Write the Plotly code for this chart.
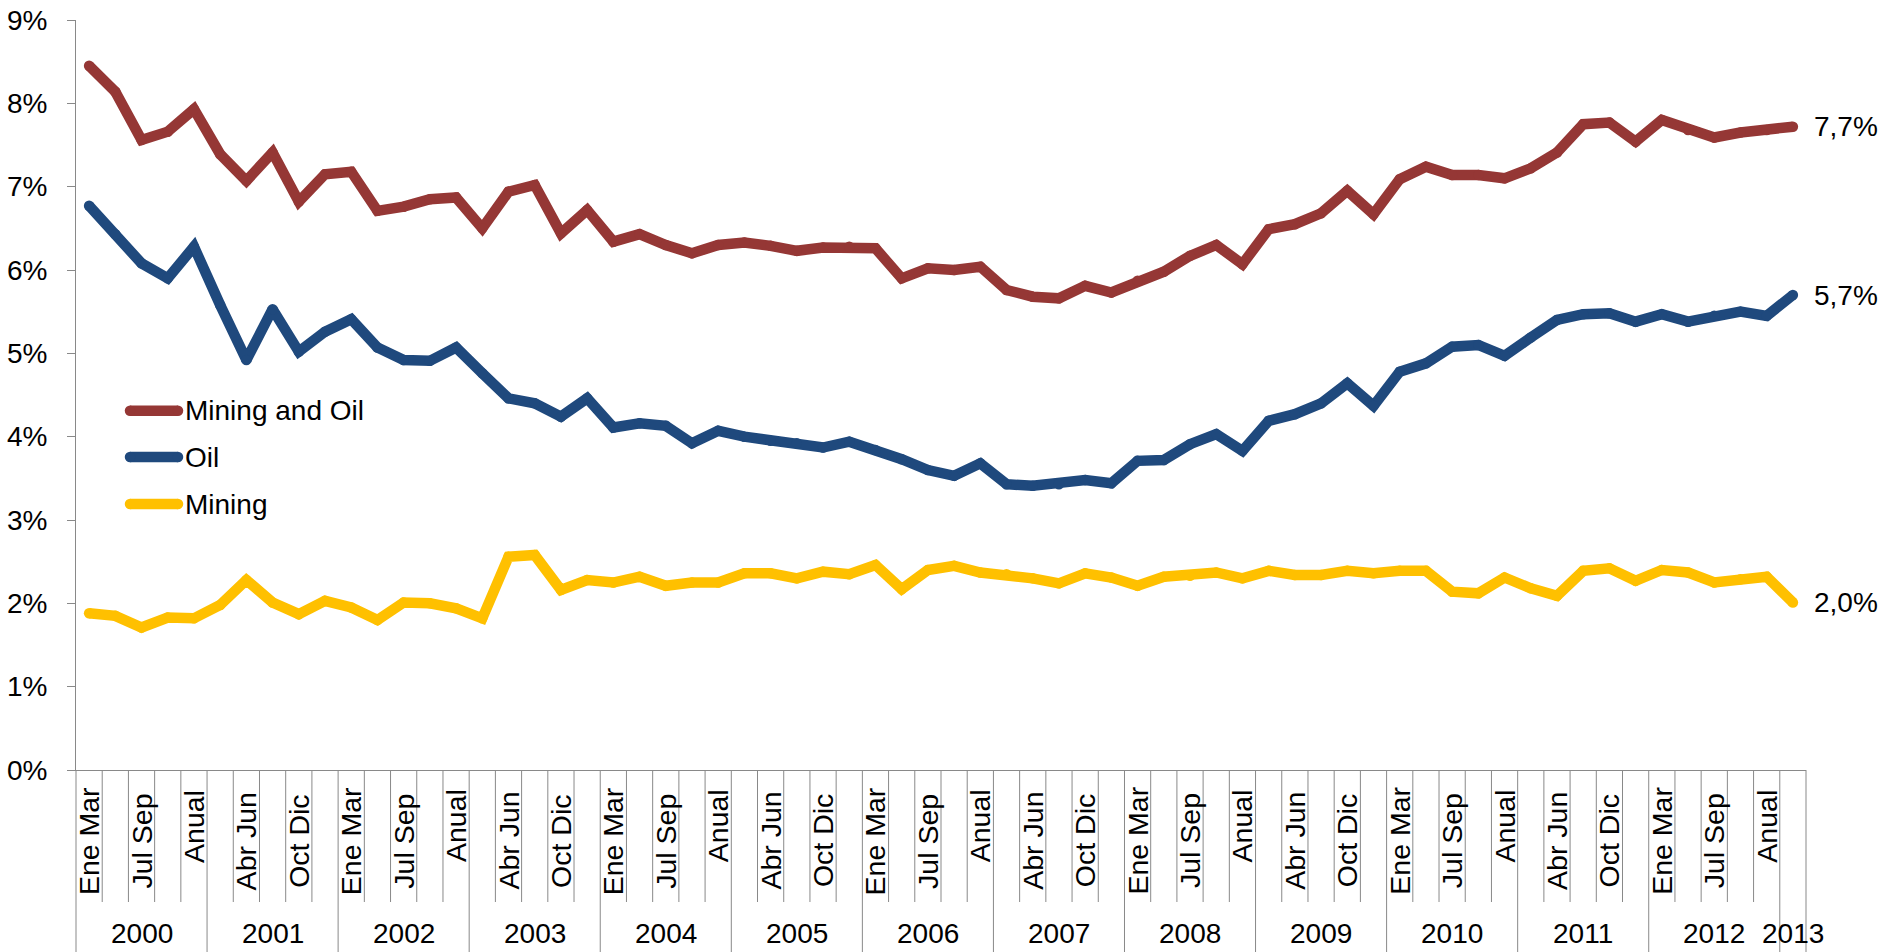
import plotly.graph_objects as go

# ---------------- data ----------------
periods = ["Ene Mar", "Abr Jun", "Jul Sep", "Oct Dic", "Anual"]
years = [str(y) for y in range(2000, 2014)]

cat_year = []
cat_period = []
for y in years[:-1]:
    for p in periods:
        cat_year.append(y)
        cat_period.append(p)
cat_year.append("2013")
cat_period.append("Ene Mar")

series_names = ["Mining and Oil", "Oil", "Mining"]

mining_oil = [8.45, 8.14, 7.56, 7.66, 7.93, 7.39, 7.07, 7.41, 6.82, 7.15,
              7.18, 6.71, 6.76, 6.85, 6.87, 6.50, 6.94, 7.02, 6.44, 6.72,
              6.34, 6.43, 6.30, 6.20, 6.30, 6.33, 6.29, 6.23, 6.27, 6.28,
              6.26, 5.90, 6.02, 6.00, 6.04, 5.76, 5.68, 5.66, 5.81, 5.73,
              5.87, 5.98, 6.17, 6.30, 6.07, 6.49, 6.55, 6.68, 6.95, 6.67,
              7.09, 7.24, 7.14, 7.14, 7.10, 7.22, 7.41, 7.75, 7.77, 7.54,
              7.80, 7.68, 7.59, 7.65, 7.68, 7.72]

oil = [6.77, 6.43, 6.08, 5.90, 6.28, 5.58, 4.92, 5.53, 5.02, 5.26,
       5.41, 5.07, 4.92, 4.91, 5.07, 4.76, 4.46, 4.40, 4.24, 4.46,
       4.11, 4.16, 4.13, 3.92, 4.07, 4.00, 3.95, 3.92, 3.87, 3.94,
       3.84, 3.73, 3.60, 3.53, 3.68, 3.43, 3.41, 3.43, 3.48, 3.44,
       3.71, 3.72, 3.91, 4.03, 3.83, 4.19, 4.27, 4.40, 4.64, 4.37,
       4.78, 4.88, 5.08, 5.10, 4.97, 5.19, 5.40, 5.47, 5.48, 5.38,
       5.47, 5.38, 5.45, 5.50, 5.45, 5.70]

mining = [1.88, 1.85, 1.71, 1.83, 1.82, 1.98, 2.28, 2.01, 1.87, 2.03,
          1.95, 1.80, 2.01, 2.00, 1.94, 1.82, 2.56, 2.58, 2.16, 2.28,
          2.25, 2.32, 2.21, 2.25, 2.25, 2.36, 2.36, 2.30, 2.38, 2.35,
          2.46, 2.17, 2.40, 2.45, 2.37, 2.35, 2.30, 2.24, 2.36, 2.31,
          2.21, 2.32, 2.33, 2.37, 2.30, 2.39, 2.34, 2.34, 2.39, 2.36,
          2.39, 2.39, 2.14, 2.12, 2.31, 2.18, 2.09, 2.39, 2.42, 2.27,
          2.40, 2.37, 2.25, 2.29, 2.32, 2.01]

colors = ["#953735", "#1F497D", "#FFC000"]
values = [mining_oil, oil, mining]

# ---------------- layout constants ----------------
W, H = 1885, 952
ML, MR, MT, MB = 76, 79, 20, 182
PW = W - ML - MR
PH = H - MT - MB
FONT = "Arial, Liberation Sans, sans-serif"
AXIS_GRAY = "#898989"
LW = 10.5


def px_to_paper_x(px):
    return (px - ML) / PW


def px_to_paper_y(py):
    return (H - MB - py) / PH


n = len(cat_period)
xs = list(range(n))

fig = go.Figure()
for name, vals, col in zip(series_names, values, colors):
    fig.add_trace(go.Scatter(
        x=xs, y=[v / 100 for v in vals], name=name, mode="lines+markers",
        line=dict(color=col, width=LW),
        marker=dict(color=col, size=LW, line=dict(width=0)),
        showlegend=False, hoverinfo="skip",
    ))

shapes = []
annotations = []

# category separator lines below the axis
minor_bottom = px_to_paper_y(902)
major_bottom = px_to_paper_y(H + 5)
year_starts = [i for i in range(n) if i == 0 or cat_year[i] != cat_year[i - 1]]
for k in range(n + 1):
    major = (k in year_starts) or k == n
    shapes.append(dict(
        type="line", xref="paper", yref="paper",
        x0=k / n, x1=k / n, y0=0, y1=major_bottom if major else minor_bottom,
        line=dict(color=AXIS_GRAY, width=1),
    ))

# category labels (every second one, as in the original)
for i, p in enumerate(cat_period):
    if i % 2 == 0:
        cy = 826 if p == "Anual" else 841
        annotations.append(dict(
            x=i, xref="x", y=px_to_paper_y(cy), yref="paper",
            text=p, textangle=-90, showarrow=False,
            xanchor="center", yanchor="middle",
            font=dict(family=FONT, size=28.5, color="black"),
        ))

# year labels
for y in years:
    idx = [i for i in range(n) if cat_year[i] == y]
    annotations.append(dict(
        x=(idx[0] + idx[-1]) / 2, xref="x", y=px_to_paper_y(934), yref="paper",
        text=y, showarrow=False, xanchor="center", yanchor="middle",
        font=dict(family=FONT, size=28, color="black"),
    ))

# end labels
for vals in values:
    v = vals[-1]
    annotations.append(dict(
        x=n - 1, xref="x", y=v / 100, yref="y",
        text=f"{v:.1f}".replace(".", ",") + "%", showarrow=False,
        xanchor="left", yanchor="middle", xshift=19,
        font=dict(family=FONT, size=28, color="black"),
    ))

# manual legend
leg_y = [410.7, 457, 504]
for name, col, ly in zip(series_names, colors, leg_y):
    yp = px_to_paper_y(ly)
    shapes.append(dict(
        type="line", xref="paper", yref="paper",
        x0=px_to_paper_x(130), x1=px_to_paper_x(178), y0=yp, y1=yp,
        line=dict(color=col, width=LW),
    ))
    for cx in (130, 178):
        shapes.append(dict(
            type="circle", xref="paper", yref="paper",
            xsizemode="pixel", ysizemode="pixel",
            xanchor=px_to_paper_x(cx), yanchor=yp,
            x0=-LW / 2, x1=LW / 2, y0=-LW / 2, y1=LW / 2,
            fillcolor=col, line=dict(width=0),
        ))
    annotations.append(dict(
        x=px_to_paper_x(183), xref="paper", y=yp, yref="paper",
        text=name, showarrow=False, xanchor="left", yanchor="middle",
        font=dict(family=FONT, size=28, color="black"),
    ))

fig.update_layout(
    width=W, height=H,
    margin=dict(l=ML, r=MR, t=MT, b=MB, pad=0),
    paper_bgcolor="white", plot_bgcolor="white",
    font=dict(family=FONT, size=28, color="black"),
    shapes=shapes, annotations=annotations,
    showlegend=False,
    xaxis=dict(
        range=[-0.5, n - 0.5], showticklabels=False, ticks="",
        showgrid=False, zeroline=False, automargin=False,
        showline=True, linecolor=AXIS_GRAY, linewidth=1,
    ),
    yaxis=dict(
        range=[0, 0.09], dtick=0.01, tick0=0, tickformat=".0%",
        ticks="outside", ticklen=8, tickcolor=AXIS_GRAY, tickwidth=1,
        showgrid=False, zeroline=False, automargin=False,
        showline=True, linecolor=AXIS_GRAY, linewidth=1,
        tickfont=dict(family=FONT, size=28, color="black"),
        ticklabelstandoff=14,
    ),
)

fig.write_html(
    "out.html",
    config={"displayModeBar": False},
    post_script="document.body.style.margin='0';document.body.style.overflow='hidden';",
)
